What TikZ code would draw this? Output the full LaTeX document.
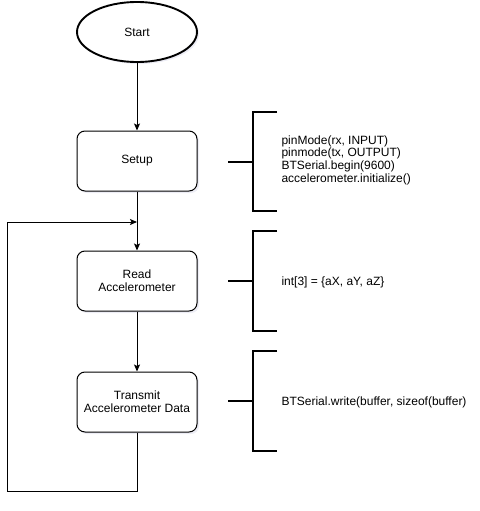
\documentclass[tikz,border=0pt]{standalone}
\usepackage{fontspec}
\setmainfont{Liberation Sans}
\usetikzlibrary{arrows.meta,positioning,shapes.geometric,shadows}
\definecolor{ink}{HTML}{000000}
\definecolor{shade}{HTML}{9A9AC8}
\newcommand{\codebrack}[3]{\draw[brack] (277,#1)--(253,#1)--(253,#3)--(277,#3);
\draw[brack] (228,#2)--(253,#2);}

\begin{document}
\begin{tikzpicture}[x=1pt,y=-1pt,
  every node/.style={font=\fontsize{12}{12.6}\selectfont},
  soft/.style={drop shadow={opacity=0.18,shadow xshift=2pt,shadow yshift=-2pt,fill=shade}},
  stepbox/.style={draw=ink,fill=white,rounded corners=8pt,minimum width=120pt,minimum height=60pt,align=center,line width=1pt,soft},
  term/.style={ellipse,draw=ink,fill=white,minimum width=120pt,minimum height=60pt,line width=1.9pt,soft},
  flow/.style={draw=ink,line width=1pt,-{Stealth[length=7pt,width=6pt,inset=1.5pt]}},
  brack/.style={draw=ink,line width=1.9pt},
  code/.style={anchor=west,align=left}]
\useasboundingbox (0,0) rectangle (479,511);
\node[term] (start) at (137,32) {Start};
\node[stepbox] (setup) at (137,161) {Setup};
\node[stepbox] (read) at (137,281) {Read\\Accelerometer};
\node[stepbox] (transmit) at (137,402) {Transmit\\Accelerometer Data};
\coordinate (loopin) at (137,222);
\draw[flow] (start) -- (setup);
\draw[flow] (setup) -- (read);
\draw[flow] (read) -- (transmit);
\draw[flow] (transmit.south) -- ++(0,59) -| (7,222) -- (loopin);
% code notes
\codebrack{112}{162}{211}
\codebrack{231}{281}{331}
\codebrack{351}{401}{451}
\node[code] (setupcode) at (278,160) {pinMode(rx, INPUT)\\pinmode(tx, OUTPUT)\\BTSerial.begin(9600)\\accelerometer.initialize()};
\node[code] (readcode) at (278,282) {int[3] = \{aX, aY, aZ\}};
\node[code] (sendcode) at (278,402) {BTSerial.write(buffer, sizeof(buffer)};
\end{tikzpicture}
\end{document}
